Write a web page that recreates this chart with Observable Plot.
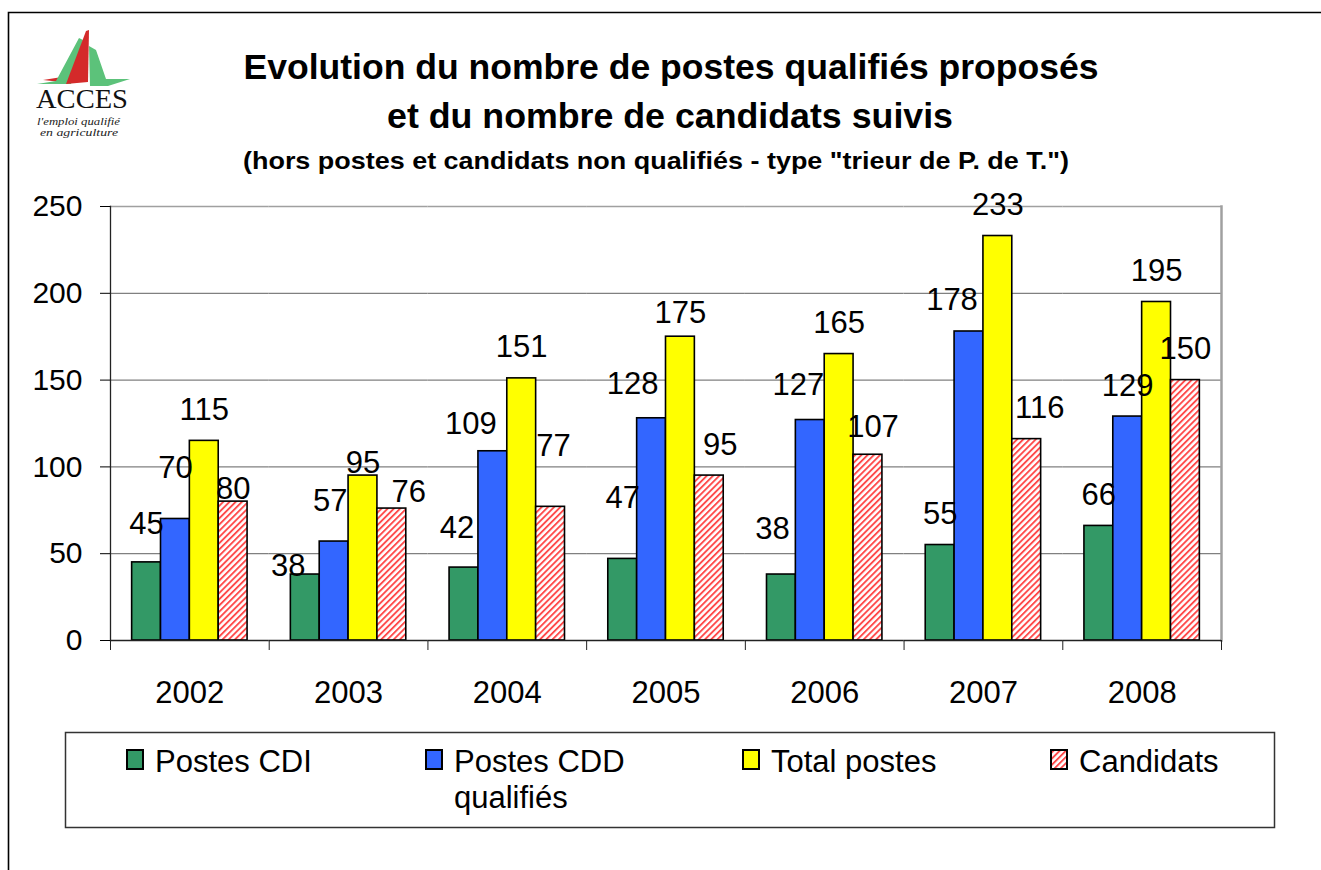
<!DOCTYPE html>
<html><head><meta charset="utf-8">
<script src="https://cdn.jsdelivr.net/npm/d3@7"></script>
<script src="https://cdn.jsdelivr.net/npm/@observablehq/plot@0.6"></script>
<style>
body{margin:0;background:#fff;}
#wrap{position:relative;width:1321px;height:870px;overflow:hidden;font-family:"Liberation Sans",Arial,sans-serif;}
#chart{position:absolute;left:0;top:170px;}
#overlay{position:absolute;left:0;top:0;pointer-events:none;}
</style></head><body>
<div id="wrap"><div id="chart"></div><svg id="overlay" width="1321" height="870" xmlns="http://www.w3.org/2000/svg"></svg></div>
<script>
// ---- data ----
const years = ["2002", "2003", "2004", "2005", "2006", "2007", "2008"];
const series = ["Postes CDI", "Postes CDD qualifiés", "Total postes", "Candidats"];
const postesCDI = [45, 38, 42, 47, 38, 55, 66];
const postesCDD = [70, 57, 109, 128, 127, 178, 129];
const totalPostes = [115, 95, 151, 175, 165, 233, 195];
const candidats = [80, 76, 77, 95, 107, 116, 150];
const yTicks = [0, 50, 100, 150, 200, 250];
const titleLine1 = "Evolution du nombre de postes qualifiés proposés";
const titleLine2 = "et du nombre de candidats suivis";
const subtitle = "(hors postes et candidats non qualifiés - type \"trieur de P. de T.\")";

// ---- styles ----
const colors = ["#339966", "#3366ff", "#ffff00", "url(#hatch)"];
const values = [postesCDI, postesCDD, totalPostes, candidats];
const data = years.flatMap((year, i) => series.map((s, k) => ({year, series: s, value: values[k][i]})));

// label placement tweaks [dx, dy] (in the original, several labels were moved by hand)
const labelNudge = {
  "2002|Postes CDI": [0, -7], "2002|Postes CDD qualifiés": [0, -20], "2002|Candidats": [0, 18],
  "2003|Postes CDI": [-17, 22], "2003|Postes CDD qualifiés": [-4, -10], "2003|Total postes": [0, 18], "2003|Candidats": [17, 14],
  "2004|Postes CDI": [-7, -9], "2004|Postes CDD qualifiés": [-22, 4], "2004|Candidats": [3, -30],
  "2005|Postes CDI": [0, -30], "2005|Postes CDD qualifiés": [-19, -3], "2005|Total postes": [0, 7], "2005|Candidats": [11, 0],
  "2006|Postes CDI": [-9, -15], "2006|Postes CDD qualifiés": [-12, -4], "2006|Candidats": [5, 3],
  "2007|Postes CDD qualifiés": [-17, 0], "2007|Candidats": [13, 0]
};
const nudgeOf = d => labelNudge[d.year + "|" + d.series] || [0, 0];

const W = 1321, H = 540, mL = 110, mR = 100, mT = 36, mB = 70;
const bw = (W - mL - mR) / years.length;
const font = "'Liberation Sans', Arial, sans-serif";

const labelMarks = d3.groups(data, d => nudgeOf(d).join(",")).map(([key, g]) => {
  const [dx, dy] = key.split(",").map(Number);
  return Plot.text(g, {fx: "year", x: "series", y: "value", text: "value", dx, dy: dy - 21,
    lineAnchor: "bottom", fontSize: 31, fill: "black"});
});

const plot = Plot.plot({
  width: W, height: H,
  marginLeft: mL, marginRight: mR, marginTop: mT, marginBottom: mB,
  style: {fontFamily: font, fontSize: "30px", background: "transparent", overflow: "visible", color: "black"},
  fx: {domain: years, padding: 0, label: null, round: false},
  x: {domain: series, paddingInner: 0, paddingOuter: 0.75, round: false, axis: null},
  y: {domain: [0, 250], label: null},
  color: {domain: series, range: colors},
  marks: [
    Plot.ruleY(yTicks.filter(v => v > 0 && v < 250), {stroke: "#808080", strokeWidth: 1.2}),
    Plot.ruleY([250], {stroke: "#a0a0a0", strokeWidth: 1.5}),
    Plot.frame({anchor: "right", stroke: "#a0a0a0", strokeWidth: 2.5, facetAnchor: "right"}),
    Plot.barY(data, {fx: "year", x: "series", y: "value", fill: "series", stroke: "black", strokeWidth: 1.6, inset: 0}),
    Plot.ruleY([0], {stroke: "#222", strokeWidth: 1.3}),
    Plot.frame({anchor: "left", stroke: "#222", strokeWidth: 1.3, facetAnchor: "left"}),
    Plot.axisY({ticks: yTicks, tickSize: 10, tickPadding: 18, label: null, fontSize: 30}),
    Plot.axisFx({anchor: "bottom", tickSize: 0, tickPadding: 40, label: null, fontSize: 31}),
    Plot.axisFx({anchor: "bottom", tickSize: 10, dx: -bw / 2, tickFormat: () => "", label: null, stroke: "#222"}),
    Plot.axisFx({anchor: "bottom", ticks: [years[years.length - 1]], tickSize: 10, dx: bw / 2, tickFormat: () => "", label: null, stroke: "#222"}),
    ...labelMarks
  ]
});
document.getElementById("chart").appendChild(plot);

// ---- overlay: border, logo, titles, legend ----
const ov = d3.select("#overlay");
const defs = ov.append("defs");
const pat = defs.append("pattern").attr("id", "hatch").attr("patternUnits", "userSpaceOnUse")
  .attr("width", 4.4).attr("height", 4.4).attr("patternTransform", "rotate(45)");
pat.append("rect").attr("width", 4.4).attr("height", 4.4).attr("fill", "white");
pat.append("rect").attr("width", 1.9).attr("height", 4.4).attr("fill", "#ff4a4a");

ov.append("path").attr("d", "M8.5,870 V12.5 H1321").attr("fill", "none").attr("stroke", "black").attr("stroke-width", 1.6);

// logo
const logo = ov.append("g");
logo.append("polygon").attr("points", "43,80 62,77 61,82").attr("fill", "#d42a2a");
logo.append("polygon").attr("points", "37,84 56,81 79,38 83,40 71,84").attr("fill", "#5cc27a");
logo.append("polygon").attr("points", "66,84 86,31 89,30 88,82").attr("fill", "#d42a2a");
logo.append("polygon").attr("points", "89,46 96,50 106,79 130,79 108,86 90,86").attr("fill", "#5cc27a");
logo.append("text").attr("x", 36).attr("y", 108).attr("font-family", "'Liberation Serif', serif").attr("font-size", 27)
  .attr("textLength", 92).attr("lengthAdjust", "spacingAndGlyphs").attr("fill", "#111").text("ACCES");
logo.append("text").attr("x", 37).attr("y", 125).attr("font-family", "'Liberation Serif', serif").attr("font-style", "italic")
  .attr("font-size", 11).attr("textLength", 83).attr("lengthAdjust", "spacingAndGlyphs").attr("fill", "#222").text("l'emploi qualifié");
logo.append("text").attr("x", 40).attr("y", 136).attr("font-family", "'Liberation Serif', serif").attr("font-style", "italic")
  .attr("font-size", 11).attr("textLength", 78).attr("lengthAdjust", "spacingAndGlyphs").attr("fill", "#222").text("en agriculture");

// titles
ov.append("text").attr("x", 671).attr("y", 79).attr("text-anchor", "middle").attr("font-family", font)
  .attr("font-weight", "bold").attr("font-size", 35).attr("textLength", 855).attr("lengthAdjust", "spacingAndGlyphs").text(titleLine1);
ov.append("text").attr("x", 670).attr("y", 128).attr("text-anchor", "middle").attr("font-family", font)
  .attr("font-weight", "bold").attr("font-size", 35).attr("textLength", 566).attr("lengthAdjust", "spacingAndGlyphs").text(titleLine2);
ov.append("text").attr("x", 656).attr("y", 169).attr("text-anchor", "middle").attr("font-family", font)
  .attr("font-weight", "bold").attr("font-size", 24).attr("textLength", 826).attr("lengthAdjust", "spacingAndGlyphs").text(subtitle);

// legend
ov.append("rect").attr("x", 65.5).attr("y", 732.5).attr("width", 1209).attr("height", 95)
  .attr("fill", "white").attr("stroke", "#333").attr("stroke-width", 1.5);
const legendX = [126, 425, 742, 1050];
const ctx = document.createElement("canvas").getContext("2d");
ctx.font = "31px 'Liberation Sans'";
function wrap(label, maxW) {
  const words = label.split(" "), lines = [];
  let cur = "";
  for (const w of words) {
    const t = cur ? cur + " " + w : w;
    if (cur && ctx.measureText(t).width > maxW) { lines.push(cur); cur = w; } else cur = t;
  }
  lines.push(cur);
  return lines;
}
series.forEach((s, k) => {
  const g = ov.append("g").attr("transform", `translate(${legendX[k]},0)`);
  g.append("rect").attr("x", 1).attr("y", 750).attr("width", 16).attr("height", 19)
    .attr("fill", colors[k]).attr("stroke", "black").attr("stroke-width", 2);
  const t = g.append("text").attr("x", 29).attr("y", 772).attr("font-family", font).attr("font-size", 31).attr("fill", "black");
  wrap(s, 185).forEach((line, j) => t.append("tspan").attr("x", 29).attr("dy", j ? 36 : 0).text(line));
});
</script>
</body></html>
